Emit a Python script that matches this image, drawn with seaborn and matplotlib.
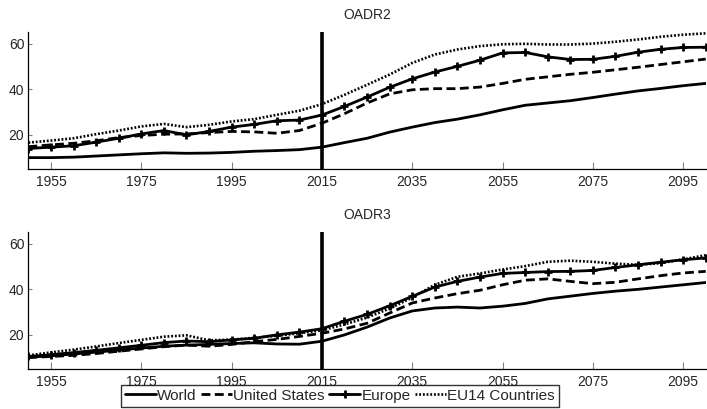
import numpy as np
import pandas as pd
import matplotlib
matplotlib.use("Agg")
import matplotlib.pyplot as plt
import seaborn as sns

years = list(range(1950, 2101, 5))

# Old-age dependency ratio, 65+ relative to 20-64 (OADR2)
oadr2_world = [10.0, 10.0, 10.2, 10.7, 11.2, 11.7, 12.1, 11.9, 12.0, 12.3, 12.8,
               13.1, 13.5, 14.6, 16.6, 18.5, 21.2, 23.4, 25.4, 26.9, 28.8,
               31.0, 33.0, 34.0, 35.0, 36.4, 37.9, 39.3, 40.4, 41.6, 42.6]
oadr2_us = [14.8, 15.6, 16.3, 17.4, 18.8, 19.7, 20.3, 20.4, 21.0, 21.5, 21.3,
            20.7, 21.9, 25.1, 29.3, 34.0, 38.0, 39.8, 40.3, 40.3, 41.0,
            42.6, 44.4, 45.5, 46.6, 47.5, 48.6, 49.7, 50.9, 52.1, 53.3]
oadr2_europe = [14.0, 14.6, 15.2, 16.8, 18.5, 20.4, 21.9, 20.0, 21.5, 23.4, 24.6,
                26.2, 26.5, 28.7, 32.5, 36.6, 40.9, 44.6, 47.6, 50.1, 52.8,
                56.0, 56.2, 54.3, 53.1, 53.2, 54.5, 56.3, 57.6, 58.4, 58.5]
oadr2_eu14 = [16.6, 17.5, 18.5, 20.3, 21.9, 23.7, 24.8, 23.4, 24.4, 25.9, 26.9,
              28.8, 30.6, 33.5, 37.6, 42.0, 46.5, 51.6, 55.3, 57.5, 59.0,
              59.8, 60.0, 59.7, 59.7, 60.1, 60.9, 61.9, 63.1, 64.0, 64.6]

# Old-age dependency ratio, alternative definition (OADR3)
oadr3_world = [10.2, 10.8, 11.6, 12.4, 13.3, 14.2, 15.0, 15.5, 15.8, 16.2, 16.5,
               16.0, 15.9, 17.2, 20.0, 23.4, 27.4, 30.5, 31.8, 32.2, 31.8,
               32.6, 33.8, 35.8, 37.0, 38.2, 39.2, 40.0, 41.0, 42.0, 43.0]
oadr3_us = [10.0, 10.5, 11.0, 11.8, 12.8, 13.8, 14.8, 15.5, 15.0, 15.8, 17.0,
            18.0, 19.3, 20.7, 22.6, 25.1, 29.6, 34.0, 36.2, 38.1, 39.6,
            42.0, 44.0, 44.6, 43.5, 42.5, 43.1, 44.6, 46.0, 47.2, 47.9]
oadr3_europe = [10.5, 11.3, 12.2, 13.2, 14.3, 15.4, 16.6, 17.3, 17.0, 17.8, 18.5,
                20.0, 21.2, 22.7, 26.0, 29.0, 32.8, 36.9, 41.0, 43.5, 45.4,
                47.0, 47.4, 47.8, 47.9, 48.3, 49.6, 50.8, 51.9, 53.0, 53.8]
oadr3_eu14 = [11.0, 12.3, 13.5, 14.9, 16.4, 17.8, 19.2, 19.8, 17.6, 17.9, 18.7,
              19.6, 20.7, 22.0, 24.6, 27.6, 31.6, 36.4, 42.0, 45.5, 47.0,
              48.7, 50.2, 52.1, 52.6, 52.1, 51.3, 50.8, 51.5, 53.2, 55.0]

series_names = ["World", "United States", "Europe", "EU14 Countries"]
x_ticks = [1955, 1975, 1995, 2015, 2035, 2055, 2075, 2095]
y_ticks = [20, 40, 60]
panel_titles = ["OADR2", "OADR3"]
cutoff_year = 2015

sns.set_style("ticks")
plt.rcParams["font.family"] = ["Liberation Sans", "DejaVu Sans"]

# per-series line appearance, applied to the Line2D that seaborn creates
line_styles = {
    "World": dict(linestyle="-", linewidth=2.0, marker=""),
    "United States": dict(linestyle=(0, (3.2, 1.6)), linewidth=2.0, marker=""),
    "Europe": dict(linestyle="-", linewidth=2.0, marker="+", markersize=6,
                   markeredgewidth=2.0),
    "EU14 Countries": dict(linestyle=(0, (0.7, 0.7)), linewidth=1.9, marker=""),
}

fig = plt.figure(figsize=(7.07, 4.09), dpi=100)
ax_top = fig.add_axes([0.0402, 0.5868, 0.958, 0.335])
ax_bot = fig.add_axes([0.0402, 0.0978, 0.958, 0.335])

panels = [
    (ax_top, [oadr2_world, oadr2_us, oadr2_europe, oadr2_eu14]),
    (ax_bot, [oadr3_world, oadr3_us, oadr3_europe, oadr3_eu14]),
]

for (ax, values), title in zip(panels, panel_titles):
    for name, vals in zip(series_names, values):
        df = pd.DataFrame({"year": years, "ratio": vals})
        sns.lineplot(data=df, x="year", y="ratio", ax=ax, color="black",
                     label=name, legend=False)
        line = ax.lines[-1]
        line.set(**line_styles[name])
        line.set_markeredgecolor("black")
    ax.axvline(cutoff_year, color="black", linewidth=2.6)
    ax.set_xlim(1950, 2100)
    ax.set_ylim(5, 65.2)
    ax.set_xticks(x_ticks)
    ax.set_yticks(y_ticks)
    ax.set_xlabel("")
    ax.set_ylabel("")
    ax.set_title(title, fontsize=10, pad=9)
    ax.tick_params(axis="x", direction="in", length=5, width=0.8,
                   color="#808080", labelsize=10, pad=4)
    ax.tick_params(axis="y", direction="in", length=3, width=0.8,
                   color="#808080", labelsize=10, pad=3)
    sns.despine(ax=ax)
    for side in ("left", "bottom"):
        ax.spines[side].set_color("black")
        ax.spines[side].set_linewidth(0.9)

handles = ax_top.lines[:4]
leg = fig.legend(handles, series_names, loc="upper center", ncol=4,
                 bbox_to_anchor=(340 / 707, 1 - 385 / 409),
                 frameon=True, fancybox=False, fontsize=11,
                 handlelength=2.0, handletextpad=0.1, columnspacing=0.3,
                 borderpad=0.25, borderaxespad=0)
leg.get_frame().set_edgecolor("black")
leg.get_frame().set_linewidth(1.0)

fig.savefig("out.png", dpi=100)
